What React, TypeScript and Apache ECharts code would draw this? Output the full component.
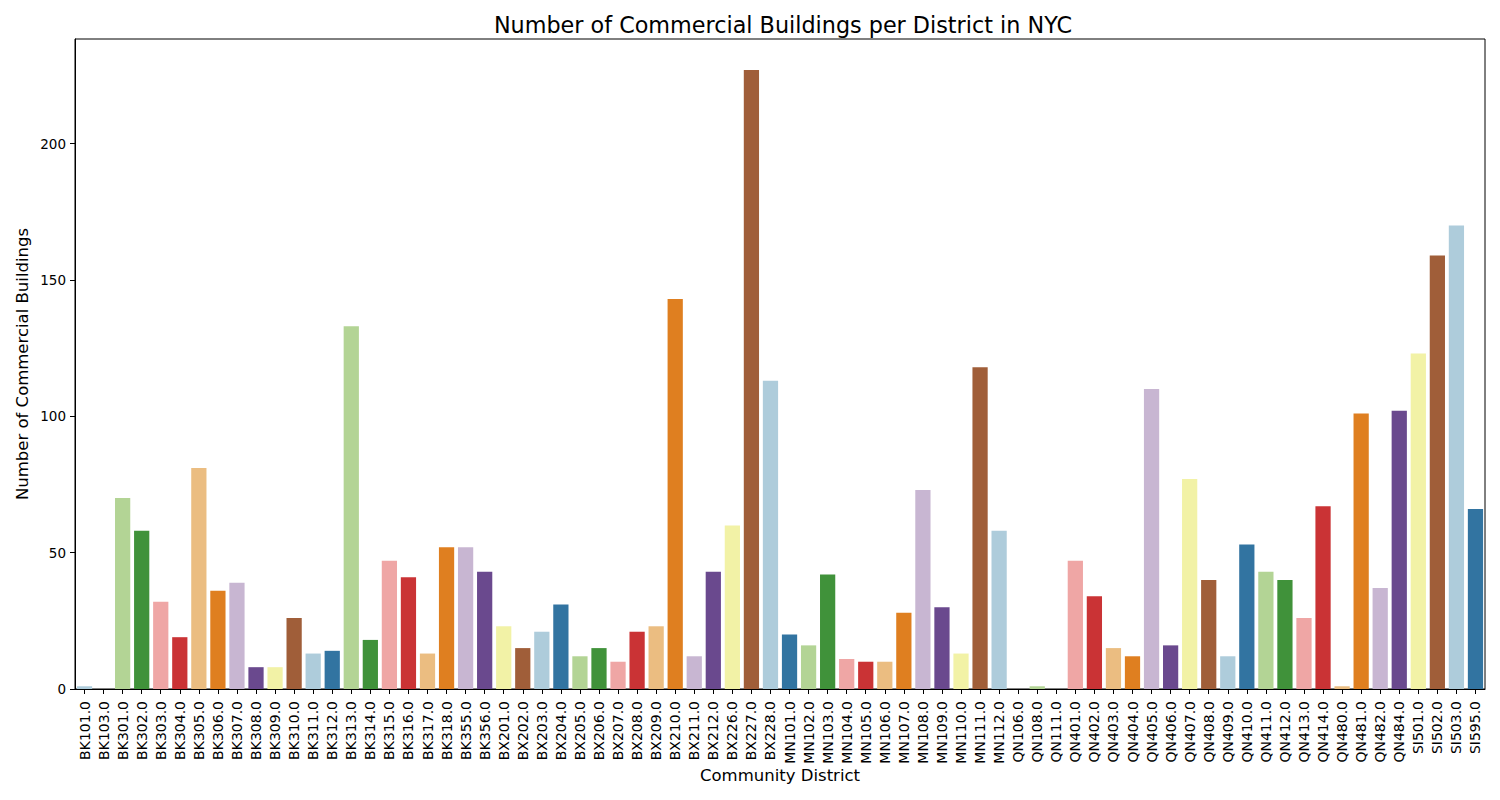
import React, { useEffect, useRef } from "react";
import * as echarts from "echarts";

const districts = [
  "BK101.0", "BK103.0", "BK301.0", "BK302.0", "BK303.0", "BK304.0", "BK305.0", "BK306.0", "BK307.0", "BK308.0",
  "BK309.0", "BK310.0", "BK311.0", "BK312.0", "BK313.0", "BK314.0", "BK315.0", "BK316.0", "BK317.0", "BK318.0",
  "BK355.0", "BK356.0", "BX201.0", "BX202.0", "BX203.0", "BX204.0", "BX205.0", "BX206.0", "BX207.0", "BX208.0",
  "BX209.0", "BX210.0", "BX211.0", "BX212.0", "BX226.0", "BX227.0", "BX228.0", "MN101.0", "MN102.0", "MN103.0",
  "MN104.0", "MN105.0", "MN106.0", "MN107.0", "MN108.0", "MN109.0", "MN110.0", "MN111.0", "MN112.0", "QN106.0",
  "QN108.0", "QN111.0", "QN401.0", "QN402.0", "QN403.0", "QN404.0", "QN405.0", "QN406.0", "QN407.0", "QN408.0",
  "QN409.0", "QN410.0", "QN411.0", "QN412.0", "QN413.0", "QN414.0", "QN480.0", "QN481.0", "QN482.0", "QN484.0",
  "SI501.0", "SI502.0", "SI503.0", "SI595.0",
];

const buildingCounts = [
  1, 0, 70, 58, 32, 19, 81, 36, 39, 8,
  8, 26, 13, 14, 133, 18, 47, 41, 13, 52,
  52, 43, 23, 15, 21, 31, 12, 15, 10, 21,
  23, 143, 12, 43, 60, 227, 113, 20, 16, 42,
  11, 10, 10, 28, 73, 30, 13, 118, 58, 0,
  1, 0, 47, 34, 15, 12, 110, 16, 77, 40,
  12, 53, 43, 40, 26, 67, 1, 101, 37, 102,
  123, 159, 170, 66,
];

const yTicks = [0, 50, 100, 150, 200];

const pairedPalette = [
  "#a6cee3", "#1f78b4", "#b2df8a", "#33a02c", "#fb9a99", "#e31a1c",
  "#fdbf6f", "#ff7f00", "#cab2d6", "#6a3d9a", "#ffff99", "#b15928",
];

function desaturate(hex: string, prop: number): string {
  const r = parseInt(hex.slice(1, 3), 16) / 255;
  const g = parseInt(hex.slice(3, 5), 16) / 255;
  const b = parseInt(hex.slice(5, 7), 16) / 255;
  const max = Math.max(r, g, b);
  const min = Math.min(r, g, b);
  const l = (max + min) / 2;
  let h = 0;
  let s = 0;
  if (max !== min) {
    const d = max - min;
    s = l > 0.5 ? d / (2 - max - min) : d / (max + min);
    if (max === r) h = (g - b) / d + (g < b ? 6 : 0);
    else if (max === g) h = (b - r) / d + 2;
    else h = (r - g) / d + 4;
    h /= 6;
  }
  s *= prop;
  const hue2rgb = (p: number, q: number, t: number) => {
    if (t < 0) t += 1;
    if (t > 1) t -= 1;
    if (t < 1 / 6) return p + (q - p) * 6 * t;
    if (t < 1 / 2) return q;
    if (t < 2 / 3) return p + (q - p) * (2 / 3 - t) * 6;
    return p;
  };
  let rr = l, gg = l, bb = l;
  if (s !== 0) {
    const q = l < 0.5 ? l * (1 + s) : l + s - l * s;
    const p = 2 * l - q;
    rr = hue2rgb(p, q, h + 1 / 3);
    gg = hue2rgb(p, q, h);
    bb = hue2rgb(p, q, h - 1 / 3);
  }
  const toHex = (v: number) => Math.round(v * 255).toString(16).padStart(2, "0");
  return "#" + toHex(rr) + toHex(gg) + toHex(bb);
}

const barColors = pairedPalette.map((c) => desaturate(c, 0.75));

export default function App() {
  const ref = useRef<HTMLDivElement>(null);

  useEffect(() => {
    if (!ref.current) return;
    const chart = echarts.init(ref.current, undefined, { renderer: "svg" });
    const font = "'DejaVu Sans', sans-serif";
    const yMax = Math.max(...buildingCounts) * 1.05;
    chart.setOption({
      animation: false,
      backgroundColor: "#ffffff",
      textStyle: { fontFamily: font },
      title: {
        text: "Number of Commercial Buildings per District in NYC",
        left: 778,
        textAlign: "center",
        top: 9,
        textStyle: { fontFamily: font, fontSize: 22.3, fontWeight: "normal", color: "#000" },
      },
      grid: {
        left: 75,
        right: 15,
        top: 39,
        bottom: 111,
        show: true,
        borderColor: "#000",
        borderWidth: 1,
        containLabel: false,
      },
      xAxis: {
        type: "category",
        data: districts,
        name: "Community District",
        nameLocation: "middle",
        nameGap: 78,
        nameMoveOverlap: false,
        nameTextStyle: { fontFamily: font, fontSize: 16.5, color: "#000", verticalAlign: "top" },
        axisLine: { show: true, lineStyle: { color: "#000", width: 1 } },
        axisTick: { show: true, alignWithLabel: true, length: 5, lineStyle: { color: "#000" } },
        axisLabel: { rotate: 90, interval: 0, fontFamily: font, fontSize: 14, color: "#000", margin: 12 },
        splitLine: { show: false },
      },
      yAxis: {
        type: "value",
        min: 0,
        max: yMax,
        interval: 50,
        name: "Number of Commercial Buildings",
        nameLocation: "middle",
        nameGap: 44,
        nameMoveOverlap: false,
        nameTextStyle: { fontFamily: font, fontSize: 16.5, color: "#000" },
        axisLine: { show: true, lineStyle: { color: "#000", width: 1 } },
        axisTick: { show: true, length: 5, lineStyle: { color: "#000" }, customValues: yTicks },
        axisLabel: { fontFamily: font, fontSize: 13.5, color: "#000", margin: 9, customValues: yTicks },
        splitLine: { show: false },
      },
      series: [
        {
          type: "bar",
          data: buildingCounts.map((v, i) => ({
            value: v,
            itemStyle: { color: barColors[i % barColors.length] },
          })),
          barCategoryGap: "20%",
        },
      ],
    });
    return () => chart.dispose();
  }, []);

  return (
    <div
      ref={ref}
      style={{ position: "fixed", left: 0, top: 0, width: 1500, height: 800, background: "#fff" }}
    />
  );
}
